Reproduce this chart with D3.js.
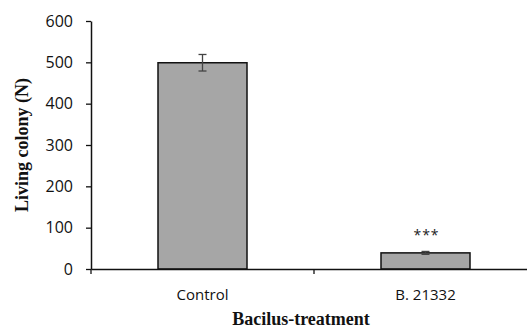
<!DOCTYPE html>
<html>
<head>
<meta charset="utf-8">
<script src="https://cdn.jsdelivr.net/npm/d3@7"></script>
<style>
  body { margin: 0; background: #fff; }
  svg { display: block; }
</style>
</head>
<body>
<svg id="chart"></svg>
<script>
const categories = ["Control", "B. 21332"];
const values = [499, 39];
const errors = [20, 3.5];
const marks = ["", "***"];
const yTicks = [0, 100, 200, 300, 400, 500, 600];

const width = 527;
const height = 329;
const margin = { top: 21, right: -10, bottom: 60, left: 91 };

const svg = d3.select("#chart").attr("width", width).attr("height", height);

const x = d3.scaleBand()
  .domain(categories)
  .range([margin.left, width - margin.right])
  .paddingInner(0)
  .paddingOuter(0);

const y = d3.scaleLinear()
  .domain([0, 600])
  .range([height - margin.bottom, margin.top]);

const barW = 89;

// bars
svg.selectAll("rect.bar")
  .data(values)
  .enter()
  .append("rect")
  .attr("class", "bar")
  .attr("x", (d, i) => x(categories[i]) + x.bandwidth() / 2 - barW / 2)
  .attr("y", (d) => y(d))
  .attr("width", barW)
  .attr("height", (d) => y(0) - y(d))
  .attr("fill", "#a6a6a6")
  .attr("stroke", "#111")
  .attr("stroke-width", 1.5);

// error bars
const eb = svg.selectAll("g.err")
  .data(values)
  .enter()
  .append("g")
  .attr("class", "err")
  .attr("stroke", "#444")
  .attr("stroke-width", 1.3);
eb.append("line")
  .attr("x1", (d, i) => x(categories[i]) + x.bandwidth() / 2)
  .attr("x2", (d, i) => x(categories[i]) + x.bandwidth() / 2)
  .attr("y1", (d, i) => y(d + errors[i]))
  .attr("y2", (d, i) => y(d - errors[i]));
eb.append("line")
  .attr("x1", (d, i) => x(categories[i]) + x.bandwidth() / 2 - 4)
  .attr("x2", (d, i) => x(categories[i]) + x.bandwidth() / 2 + 4)
  .attr("y1", (d, i) => y(d + errors[i]))
  .attr("y2", (d, i) => y(d + errors[i]));
eb.append("line")
  .attr("x1", (d, i) => x(categories[i]) + x.bandwidth() / 2 - 4)
  .attr("x2", (d, i) => x(categories[i]) + x.bandwidth() / 2 + 4)
  .attr("y1", (d, i) => y(d - errors[i]))
  .attr("y2", (d, i) => y(d - errors[i]));

// significance marks
svg.selectAll("text.sig")
  .data(values)
  .enter()
  .append("text")
  .attr("class", "sig")
  .attr("x", (d, i) => x(categories[i]) + x.bandwidth() / 2 + 1)
  .attr("y", (d, i) => y(d + errors[i]) - 11)
  .attr("text-anchor", "middle")
  .attr("font-family", "'Open Sans', sans-serif")
  .attr("font-size", 14)
  .attr("letter-spacing", 1)
  .attr("fill", "#222")
  .text((d, i) => marks[i]);

// y axis
const yAxis = svg.append("g")
  .attr("transform", `translate(${margin.left},0)`)
  .call(d3.axisLeft(y).tickValues(yTicks).tickSize(5).tickPadding(13).tickSizeOuter(0));
yAxis.select(".domain").attr("stroke", "#111").attr("stroke-width", 1.5);
yAxis.selectAll(".tick line").attr("stroke", "#111").attr("stroke-width", 1.3);
yAxis.selectAll(".tick text")
  .attr("font-family", "'Open Sans', sans-serif")
  .attr("font-size", 16)
  .attr("fill", "#111");

// x axis
const xAxis = svg.append("g")
  .attr("transform", `translate(0,${y(0)})`)
  .call(d3.axisBottom(x).tickSize(0).tickPadding(20));
xAxis.select(".domain").attr("stroke", "#111").attr("stroke-width", 1.5);
xAxis.selectAll(".tick text")
  .attr("font-family", "'Open Sans', sans-serif")
  .attr("font-size", 15)
  .attr("fill", "#111");

// x tick marks at band boundaries
svg.append("g")
  .selectAll("line")
  .data(categories)
  .enter()
  .append("line")
  .attr("x1", (d) => x(d))
  .attr("x2", (d) => x(d))
  .attr("y1", y(0))
  .attr("y2", y(0) + 5)
  .attr("stroke", "#111")
  .attr("stroke-width", 1.3);

// axis titles
svg.append("text")
  .attr("x", (margin.left + width) / 2 - 8)
  .attr("y", 325)
  .attr("text-anchor", "middle")
  .attr("font-family", "'Liberation Serif', 'Times New Roman', serif")
  .attr("font-weight", "bold")
  .attr("font-size", 18)
  .attr("fill", "#111")
  .text("Bacilus-treatment");

svg.append("text")
  .attr("transform", "translate(28,145) rotate(-90)")
  .attr("text-anchor", "middle")
  .attr("font-family", "'Liberation Serif', 'Times New Roman', serif")
  .attr("font-weight", "bold")
  .attr("font-size", 18)
  .attr("fill", "#111")
  .text("Living colony (N)");
</script>
</body>
</html>
